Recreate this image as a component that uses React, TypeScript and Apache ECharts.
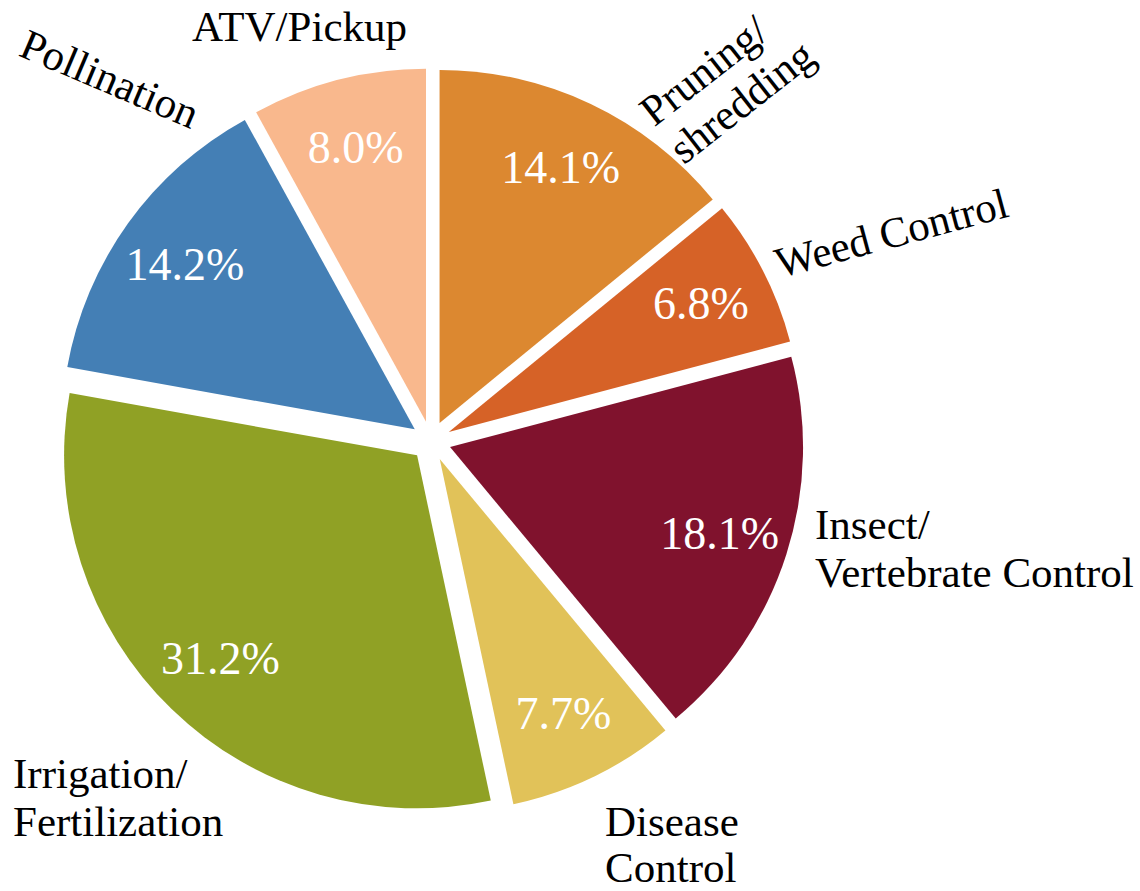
import React, { useEffect, useRef } from "react";
import * as echarts from "echarts";

const categories = [
  "Pruning/\nshredding",
  "Weed Control",
  "Insect/\nVertebrate Control",
  "Disease\nControl",
  "Irrigation/\nFertilization",
  "Pollination",
  "ATV/Pickup",
];
const shares = [14.1, 6.8, 18.1, 7.7, 31.2, 14.2, 8.0];
const colors = ["#DC8830", "#D66227", "#80122D", "#E1C259", "#90A125", "#447FB5", "#F9B88D"];

// label anchors [x, y, rotation, lineHeight] for the outside category labels (left-middle anchor)
const labelAnchors: [number, number, number, number][] = [
  [660, 135, 38, 48],
  [776, 264, 15, 48],
  [815, 548, 0, 48],
  [605, 844, 0, 46],
  [13, 797, 0, 48],
  [23, 42, -23, 48],
  [192, 26, 0, 48],
];

const FONT = "Liberation Serif";

export default function App() {
  const ref = useRef<HTMLDivElement>(null);
  useEffect(() => {
    if (!ref.current) return;
    const chart = echarts.init(ref.current, null, { renderer: "svg" });
    const center = [431, 441];
    const mainData = categories.map((name, i) => ({
      name,
      value: shares[i],
      selected: true,
      itemStyle: { color: colors[i] },
    }));
    const ghostData = categories.map((name, i) => ({ name, value: shares[i] }));
    const nameData = categories.map((name, i) => ({
      name,
      value: shares[i],
      label: { lineHeight: labelAnchors[i][3] },
    }));
    chart.setOption({
      animation: false,
      backgroundColor: "#ffffff",
      textStyle: { fontFamily: FONT },
      series: [
        {
          type: "pie",
          z: 2,
          center,
          radius: [0, 353],
          startAngle: 90,
          clockwise: true,
          selectedMode: "multiple",
          selectedOffset: 20,
          silent: true,
          itemStyle: { borderWidth: 0 },
          label: { show: false },
          labelLine: { show: false },
          data: mainData,
        },
        {
          type: "pie",
          z: 5,
          center,
          radius: [0, 600],
          startAngle: 90,
          clockwise: true,
          silent: true,
          itemStyle: { color: "rgba(0,0,0,0)" },
          label: {
            show: true,
            position: "inside",
            color: "#ffffff",
            fontFamily: FONT,
            fontSize: 46,
            formatter: (p: any) => Number(p.value).toFixed(1) + "%",
          },
          labelLine: { show: false },
          data: ghostData,
        },
        {
          type: "pie",
          z: 5,
          center,
          radius: [0, 353],
          startAngle: 90,
          clockwise: true,
          silent: true,
          avoidLabelOverlap: false,
          itemStyle: { color: "rgba(0,0,0,0)" },
          label: {
            show: true,
            position: "outside",
            color: "#000000",
            fontFamily: FONT,
            fontSize: 43,
            lineHeight: 48,
            align: "left",
            formatter: "{b}",
          },
          labelLine: { show: false },
          labelLayout: (p: any) => {
            const a = labelAnchors[p.dataIndex];
            return { x: a[0], y: a[1], rotate: a[2], align: "left", verticalAlign: "middle" };
          },
          data: nameData,
        },
      ],
    });
    return () => chart.dispose();
  }, []);
  return (
    <div
      ref={ref}
      style={{ position: "fixed", left: 0, top: 0, width: 1140, height: 891, background: "#fff" }}
    />
  );
}
